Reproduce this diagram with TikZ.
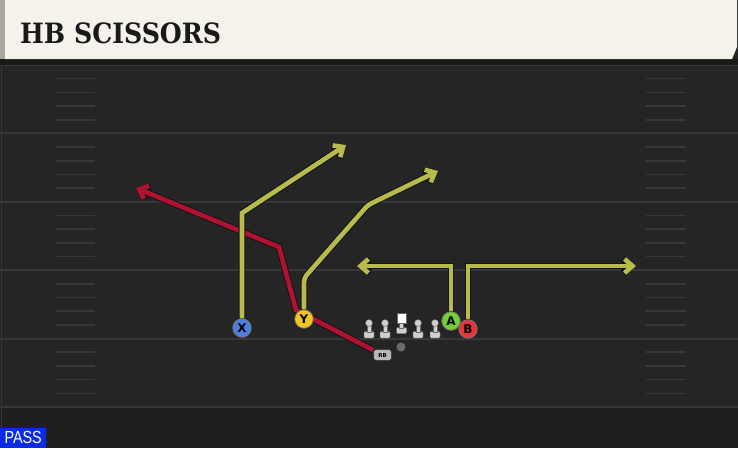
\documentclass[tikz,border=0pt]{standalone}
\usepackage{fontspec}
\newfontfamily\titlefont{DejaVu Serif Bold}
\newfontfamily\playfont{DejaVu Sans Bold}
\newfontfamily\tagfont{Liberation Sans}
\usetikzlibrary{arrows.meta}
\definecolor{fieldgray}{HTML}{252525}
\definecolor{fieldlow}{HTML}{1F1F1F}
\definecolor{fieldline}{HTML}{383838}
\definecolor{headercream}{HTML}{F5F2EB}
\definecolor{headeredge}{HTML}{A8A8A4}
\definecolor{routeyellow}{HTML}{B9BA4C}
\definecolor{routered}{HTML}{B0122F}
\definecolor{routeedge}{HTML}{121418}
\definecolor{passblue}{HTML}{0A2CE4}
\definecolor{xblue}{HTML}{4C7FE0}
\definecolor{yyellow}{HTML}{F2C61C}
\definecolor{agreen}{HTML}{72D132}
\definecolor{bred}{HTML}{E8343F}
\definecolor{linegray}{HTML}{CFCFCF}

\begin{document}
\begin{tikzpicture}[x=1pt,y=-1pt,
    route/.style = {line width=4.6pt, draw=#1,% routes with a dark edge
                    -{Straight Barb[length=8pt,width=14pt]},
                    preaction={draw=routeedge, line width=6.6pt,
                    -{Straight Barb[length=8pt,width=14pt]}}},
   player/.style = {circle, fill=#1, draw=black!55, line width=0.8pt,
                    minimum size=18.5pt, inner sep=0pt,
                    font=\playfont\fontsize{12}{12}\selectfont},
     yard/.style = {draw=fieldline, line width=2pt},
     hash/.style = {draw=fieldline, line width=1.6pt},
  lineman/.style = {fill=linegray, draw=black!60, line width=0.4pt},
                    ]
\useasboundingbox (0,0) rectangle (738,448);
% field
\fill[fieldgray] (0,0) rectangle (738,448);
\fill[fieldlow] (0,408) rectangle (738,448);
\foreach \k in {0,...,5}
    \draw[yard] (0,{65+68.4*\k}) -- (738,{65+68.4*\k});
\foreach \k in {0,...,4}
  \foreach \j in {1,...,4} {
    \draw[hash] (56,{65+68.4*\k+13.68*\j}) -- (95,{65+68.4*\k+13.68*\j});
    \draw[hash] (646,{65+68.4*\k+13.68*\j}) -- (686,{65+68.4*\k+13.68*\j});
  }
\draw[fieldline, line width=1pt] (1.5,64) -- (1.5,448);
% header
\fill[black!90] (0,59) rectangle (738,65);
\fill[headeredge] (0,0) rectangle (5,59);
\fill[headercream] (5,0) -- (737,0) -- (737,47) -- (732,59) -- (5,59) -- cycle;
\node[anchor=base west, inner sep=0pt, xscale=0.9, text=black!90,
      font=\titlefont\fontsize{28}{28}\selectfont] (title) at (20,43) {HB SCISSORS};
% play type tag
\node[fill=passblue, text=white, anchor=south west, inner sep=0pt,
      minimum width=46pt, minimum height=20pt,
      font=\tagfont\fontsize{17.5}{17.5}\selectfont] (pass) at (0,448) {\scalebox{0.82}[1]{PASS}};
% line
\foreach \i in {369,385,418,435} {
    \fill[lineman, rounded corners=1pt] ({\i-5},331.5) rectangle ({\i+5},338);
    \fill[lineman] ({\i-2},324) rectangle ({\i+2},332);
    \fill[lineman] (\i,323) circle (3.5pt);
}
\fill[lineman, rounded corners=1pt] (396.5,327.5) rectangle (406.5,333.5);
\fill[lineman] (399.5,322) rectangle (403.5,328);
\fill[white, draw=black!60, line width=0.4pt] (397,313.5) rectangle (406,323);
\node[circle, fill=black!58, minimum size=9pt, inner sep=0pt] (ball) at (401,347) {};
% running back and his route
\node[fill=black!28, draw=black!75, line width=0.6pt, rounded corners=3pt,
      minimum width=18pt, minimum height=11pt, inner sep=0pt,
      font=\playfont\fontsize{5.5}{5.5}\selectfont] (RB) at (382.5,355) {RB};
\coordinate (Rbend) at (296,310);
\coordinate (Rturn) at (279,247);
\coordinate (Rtip)  at (136,188);
\draw[route=routered] (RB) -- (Rbend) -- (Rturn) -- (Rtip);
% receivers
\node[player=xblue]   (X) at (242,328) {X};
\node[player=yyellow] (Y) at (304,319) {Y};
\node[player=agreen]  (A) at (451,321) {A};
\node[player=bred]    (B) at (468,329) {B};
\coordinate (Xturn) at (242,213);
\coordinate (Xtip)  at (346,145);
\coordinate (Yturn) at (304,278);
\coordinate (Ybend) at (368,205);
\coordinate (Ytip)  at (438,171);
\coordinate (Aturn) at (451,266);
\coordinate (Atip)  at (357,266);
\coordinate (Bturn) at (468,266);
\coordinate (Btip)  at (636,266);
\draw[route=routeyellow] (X) -- (Xturn) -- (Xtip);
\draw[route=routeyellow, rounded corners=4pt] (Y) -- (Yturn) -- (Ybend) -- (Ytip);
\draw[route=routeyellow] (A) -- (Aturn) -- (Atip);
\draw[route=routeyellow] (B) -- (Bturn) -- (Btip);
\end{tikzpicture}
\end{document}
